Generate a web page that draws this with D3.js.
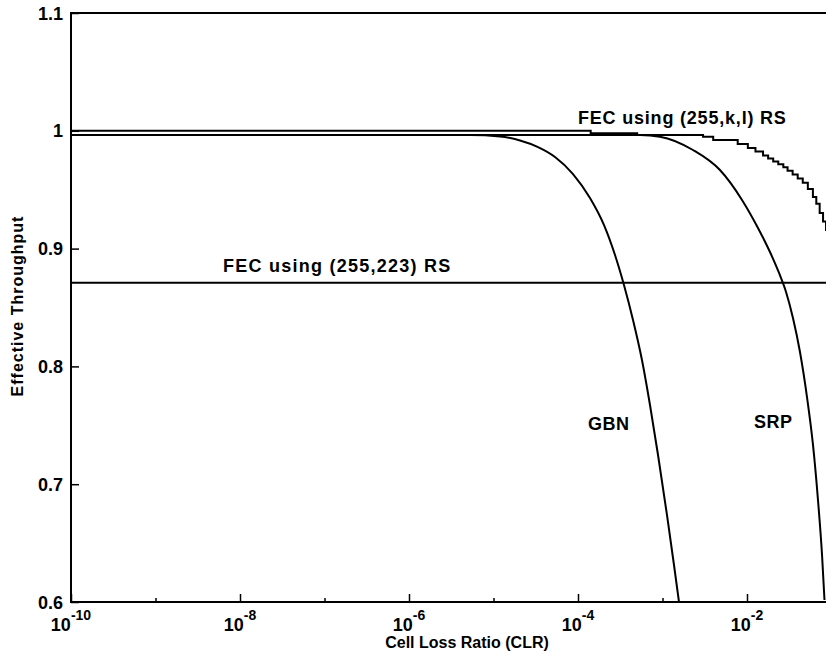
<!DOCTYPE html>
<html>
<head>
<meta charset="utf-8">
<script src="https://cdn.jsdelivr.net/npm/d3@7"></script>
<style>
  body { margin: 0; background: #fff; }
  text { font-family: "Liberation Sans", Arial, sans-serif; font-weight: bold; fill: #000; }
</style>
</head>
<body>
<div id="chart"></div>
<script>
// decades on the x axis (exponent of 10)
const xDecades = [-10, -9, -8, -7, -6, -5, -4, -3, -2, -1];
const xLabelDecades = [-10, -8, -6, -4, -2];
const yTicks = [0.6, 0.7, 0.8, 0.9, 1, 1.1];
const yTickLabels = ["0.6", "0.7", "0.8", "0.9", "1", "1.1"];

// GBN curve (log10 CLR, throughput)
const gbnLogClr = [-10, -5.278, -4.923, -4.686, -4.473, -4.272, -4.059, -3.858, -3.692, -3.562, -3.456, -3.349, -3.243, -3.148, -3.053, -2.947, -2.864, -2.805];
const gbnThroughput = [0.9964, 0.9964, 0.9952, 0.9918, 0.9862, 0.9778, 0.9633, 0.9430, 0.9200, 0.8946, 0.8691, 0.8394, 0.8054, 0.7672, 0.7248, 0.6739, 0.6314, 0.6000];

// SRP curve
const srpLogClr = [-10, -3.266, -3.030, -2.639, -2.320, -2.059, -1.870, -1.728, -1.621, -1.538, -1.456, -1.373, -1.290, -1.219, -1.160, -1.112, -1.083];
const srpThroughput = [0.9964, 0.9964, 0.9950, 0.9837, 0.9667, 0.9413, 0.9175, 0.8971, 0.8793, 0.8632, 0.8411, 0.8122, 0.7740, 0.7333, 0.6866, 0.6399, 0.6017];

// FEC using (255,k,l) RS - staircase
const fecVarLogClr = [-10, -3.85, -3.30, -2.52, -2.40, -2.11, -1.99, -1.90, -1.81, -1.75, -1.69, -1.63, -1.57, -1.52, -1.46, -1.40, -1.34, -1.28, -1.22, -1.18, -1.14, -1.10, -1.065, -1.0];
const fecVarThroughput = [1.0, 0.998, 0.9964, 0.9950, 0.9922, 0.9888, 0.9854, 0.9825, 0.9790, 0.9765, 0.9740, 0.9715, 0.9690, 0.9660, 0.9630, 0.9595, 0.9560, 0.9505, 0.9438, 0.9380, 0.9302, 0.9230, 0.9158, 0.905];

// FEC using (255,223) RS - constant
const fecFixedLogClr = [-10, -1];
const fecFixedThroughput = [0.871, 0.871];

const width = 826, height = 661;
const margin = { top: 13, left: 71, bottom: 59 };
const plotRight = 831.5;

const svg = d3.select("#chart")
  .append("svg")
  .attr("width", width)
  .attr("height", height);

svg.append("rect").attr("width", width).attr("height", height).attr("fill", "#fff");

const x = d3.scaleLog().domain([1e-10, 1e-1]).range([margin.left, plotRight]);
const y = d3.scaleLinear().domain([0.6, 1.1]).range([height - margin.bottom, margin.top]);

svg.append("clipPath").attr("id", "clip")
  .append("rect")
  .attr("x", margin.left).attr("y", margin.top)
  .attr("width", plotRight - margin.left)
  .attr("height", y(0.6) - margin.top);

function toPoints(logs, vals) {
  return logs.map((l, i) => [Math.pow(10, l), vals[i]]);
}

const plot = svg.append("g").attr("clip-path", "url(#clip)");

const smooth = d3.line().x(d => x(d[0])).y(d => y(d[1])).curve(d3.curveMonotoneX);
const stepped = d3.line().x(d => x(d[0])).y(d => y(d[1])).curve(d3.curveStepAfter);

plot.append("path")
  .datum(toPoints(fecFixedLogClr, fecFixedThroughput))
  .attr("d", smooth)
  .attr("fill", "none").attr("stroke", "#000").attr("stroke-width", 2);

plot.append("path")
  .datum(toPoints(fecVarLogClr, fecVarThroughput))
  .attr("d", stepped)
  .attr("fill", "none").attr("stroke", "#000").attr("stroke-width", 2);

plot.append("path")
  .datum(toPoints(gbnLogClr, gbnThroughput))
  .attr("d", smooth)
  .attr("fill", "none").attr("stroke", "#000").attr("stroke-width", 2);

plot.append("path")
  .datum(toPoints(srpLogClr, srpThroughput))
  .attr("d", smooth)
  .attr("fill", "none").attr("stroke", "#000").attr("stroke-width", 2);

// x axis: long ticks on labelled decades, short ticks on the others
const xAxisG = svg.append("g")
  .attr("transform", `translate(0,${y(0.6)})`)
  .call(d3.axisBottom(x)
    .tickValues(xDecades.map(d => Math.pow(10, d)))
    .tickSize(0)
    .tickFormat(""));
xAxisG.select(".domain").remove();
xAxisG.selectAll(".tick line")
  .attr("y2", (d) => xLabelDecades.includes(Math.round(Math.log10(d))) ? -8 : -4)
  .attr("stroke-width", 1.5);

xLabelDecades.forEach(function (e) {
  const t = svg.append("text")
    .attr("x", x(Math.pow(10, e)))
    .attr("y", 631)
    .attr("text-anchor", "middle")
    .attr("font-size", "18px");
  t.append("tspan").text("10");
  t.append("tspan").attr("dy", -11).attr("font-size", "14px").text("-" + Math.abs(e));
});

// y axis
const yAxisG = svg.append("g")
  .attr("transform", `translate(${margin.left},0)`)
  .call(d3.axisRight(y).tickValues(yTicks).tickSize(8).tickFormat(""));
yAxisG.select(".domain").remove();
yAxisG.selectAll(".tick line").attr("stroke-width", 1.5);

svg.selectAll(".ylab")
  .data(yTicks)
  .join("text")
  .attr("class", "ylab")
  .attr("x", 63)
  .attr("y", d => y(d) + 6.5)
  .attr("text-anchor", "end")
  .attr("font-size", "18px")
  .text((d, i) => yTickLabels[i]);

// frame
svg.append("path")
  .attr("d", `M${plotRight},${margin.top}H${margin.left}V${y(0.6)}H${plotRight}`)
  .attr("fill", "none").attr("stroke", "#000").attr("stroke-width", 2);

// annotations
svg.append("text").attr("x", 578).attr("y", 124).attr("font-size", "18px")
  .attr("letter-spacing", "0.8px").text("FEC using (255,k,l) RS");
svg.append("text").attr("x", 223).attr("y", 272).attr("font-size", "18px")
  .attr("letter-spacing", "1.25px").text("FEC using (255,223) RS");
svg.append("text").attr("x", 588).attr("y", 430).attr("font-size", "18px")
  .attr("letter-spacing", "0.5px").text("GBN");
svg.append("text").attr("x", 754).attr("y", 428).attr("font-size", "18px")
  .attr("letter-spacing", "0.5px").text("SRP");

// axis titles
svg.append("text")
  .attr("x", 467).attr("y", 648)
  .attr("text-anchor", "middle")
  .attr("font-size", "16px")
  .text("Cell Loss Ratio (CLR)");

svg.append("text")
  .attr("transform", "translate(23,306) rotate(-90)")
  .attr("text-anchor", "middle")
  .attr("font-size", "16px")
  .attr("letter-spacing", "1px")
  .text("Effective Throughput");
</script>
</body>
</html>
